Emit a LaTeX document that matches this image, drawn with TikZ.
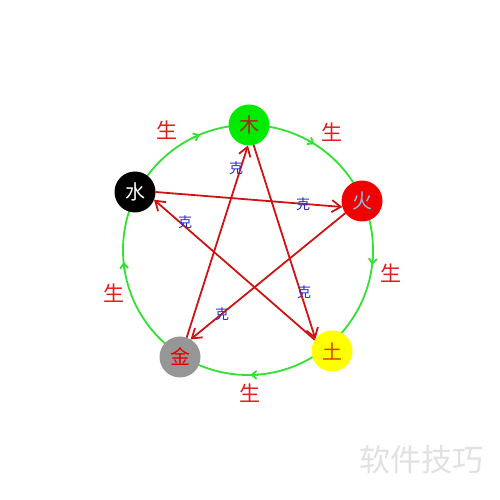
\documentclass[tikz,border=0pt]{standalone}
\usepackage{fontspec}
\newfontfamily\cjk{Noto Sans CJK SC}
\usetikzlibrary{arrows.meta,calc}
\definecolor{ringgreen}{RGB}{50,225,50}
\definecolor{mugreen}{RGB}{0,235,0}
\definecolor{huored}{RGB}{240,0,0}
\definecolor{tuyellow}{RGB}{255,255,0}
\definecolor{jingray}{RGB}{150,150,150}
\definecolor{kered}{RGB}{205,20,20}
\definecolor{keblue}{RGB}{40,40,210}
\definecolor{shengred}{RGB}{225,30,30}
\definecolor{mutext}{RGB}{165,40,20}
\definecolor{huotext}{RGB}{130,195,225}
\definecolor{tutext}{RGB}{225,60,0}
\definecolor{jintext}{RGB}{225,0,0}
\definecolor{wmgray}{RGB}{225,225,225}
\begin{document}
\begin{tikzpicture}[x=1pt,y=1pt,
  elem/.style={circle,minimum size=41pt,inner sep=0pt,outer sep=0pt,font=\cjk\fontsize{20}{20}\selectfont},
  sheng/.style={text=shengred,font=\cjk\fontsize{21}{21}\selectfont},
  kelabel/.style={text=keblue,font=\cjk\fontsize{14}{14}\selectfont},
  kearrow/.style={draw=kered,line width=1.8pt,-{Straight Barb[length=9pt,width=12pt]}},
  ringarrow/.style={draw=ringgreen,line width=1.8pt,-{Straight Barb[length=5pt,width=8pt]}}]
\useasboundingbox (0,0) rectangle (500,500);
\coordinate (C) at (248,250);
\draw[ringgreen,line width=1.8pt] (C) circle (125);
\foreach \a [evaluate=\a as \b using \a+4] in {112.6,57.9,-6.9,-89,185.5}
  \draw[ringarrow] ($(C)+(\b:125)$) arc[start angle=\b,end angle=\a,radius=125];
% elements
\node[elem,fill=mugreen,text=mutext] (mu) at (249,375) {木};
\node[elem,fill=huored,text=huotext] (huo) at (362,299) {火};
\node[elem,fill=tuyellow,text=tutext] (tu) at (332,149) {土};
\node[elem,fill=jingray,text=jintext] (jin) at (180,143) {金};
\node[elem,fill=black,text=white] (shui) at (135,308) {水};
% ke arrows
\draw[kearrow] (mu.-77) -- (tu.144);
\draw[kearrow] (tu.147) -- (shui.-22);
\draw[kearrow] (shui.0) -- (huo.197);
\draw[kearrow] (huo.216) -- (jin.59);
\draw[kearrow] (jin.71) -- (mu.-93);
% ke labels
\node[kelabel] (k1) at (236,332) {克};
\node[kelabel] (k2) at (303,296) {克};
\node[kelabel] (k3) at (185,278) {克};
\node[kelabel] (k4) at (222,186) {克};
\node[kelabel] (k5) at (304,208) {克};
% sheng labels
\node[sheng] (s1) at (167,370) {生};
\node[sheng] (s2) at (332,368) {生};
\node[sheng] (s3) at (391,227) {生};
\node[sheng] (s4) at (250,107) {生};
\node[sheng] (s5) at (114,207) {生};
% watermark
\node[text=wmgray,font=\cjk\fontsize{31}{31}\selectfont] (wm) at (421,40) {软件技巧};
\end{tikzpicture}
\end{document}
